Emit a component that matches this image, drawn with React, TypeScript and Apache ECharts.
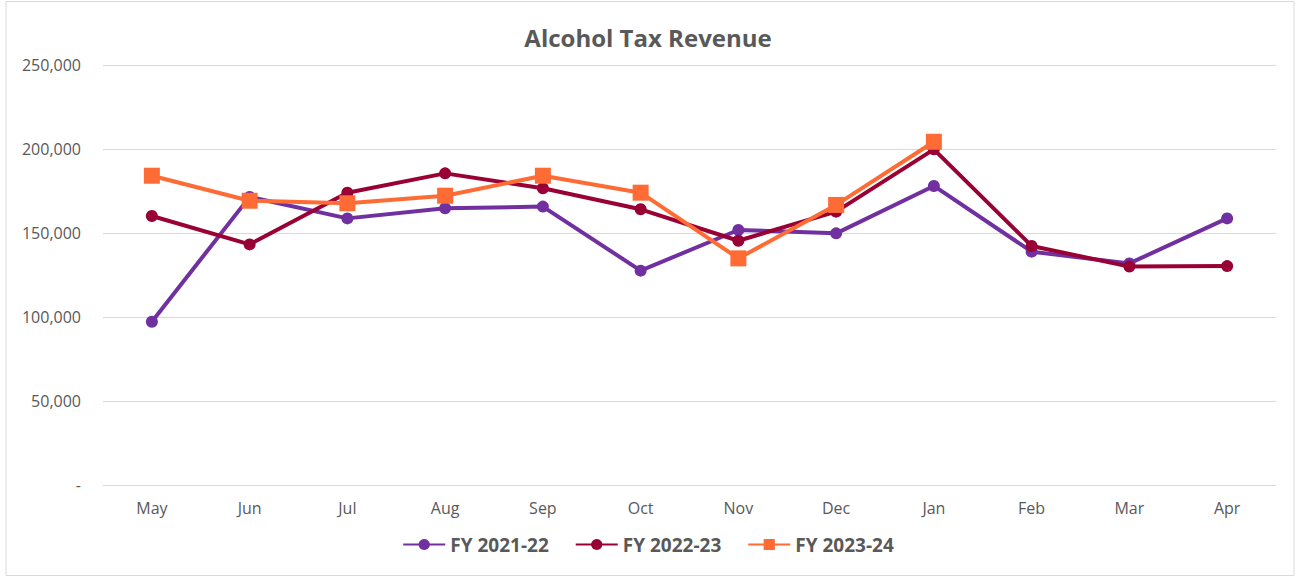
import React, { useEffect, useRef } from "react";
import * as echarts from "echarts";

const months = ["May", "Jun", "Jul", "Aug", "Sep", "Oct", "Nov", "Dec", "Jan", "Feb", "Mar", "Apr"];
const fy2122 = [97200, 171500, 158700, 164700, 165700, 127600, 151800, 149800, 178000, 138900, 131900, 158700];
const fy2223 = [160100, 143200, 174000, 185500, 176600, 164100, 145400, 162700, 199800, 142300, 130000, 130300];
const fy2324 = [184100, 169200, 167700, 172200, 184100, 174000, 134900, 166700, 204300, null, null, null];
const seriesNames = ["FY 2021-22", "FY 2022-23", "FY 2023-24"];
const yTicks = [0, 50000, 100000, 150000, 200000, 250000];

export default function App() {
  const ref = useRef<HTMLDivElement>(null);
  useEffect(() => {
    if (!ref.current) return;
    const chart = echarts.init(ref.current, null, { renderer: "svg" });
    const font = "'Open Sans', 'Noto Sans', sans-serif";
    chart.setOption({
      animation: false,
      backgroundColor: "#ffffff",
      textStyle: { fontFamily: font },
      title: {
        text: "Alcohol Tax Revenue",
        left: "center",
        top: 20,
        textStyle: { color: "#595959", fontSize: 24, fontWeight: "bold", fontFamily: font },
      },
      graphic: [
        {
          type: "rect",
          shape: { x: 6, y: 1.5, width: 1288, height: 574 },
          style: { fill: "none", stroke: "#d9d9d9", lineWidth: 1 },
          silent: true,
        },
      ],
      legend: {
        top: 530,
        left: "center",
        itemWidth: 42,
        itemHeight: 14,
        itemGap: 26,
        textStyle: { color: "#595959", fontSize: 19, fontWeight: "bold", fontFamily: font },
        data: seriesNames,
      },
      grid: { left: 103, right: 20, top: 65, bottom: 92 },
      xAxis: {
        type: "category",
        data: months,
        boundaryGap: true,
        axisLine: { show: true, lineStyle: { color: "#d9d9d9", width: 1 } },
        axisTick: { show: false },
        axisLabel: { color: "#595959", fontSize: 16, margin: 15, fontFamily: font },
      },
      yAxis: {
        type: "value",
        min: yTicks[0],
        max: yTicks[yTicks.length - 1],
        interval: 50000,
        axisLine: { show: false },
        axisTick: { show: false },
        splitLine: { lineStyle: { color: "#d9d9d9", width: 1 } },
        axisLabel: {
          color: "#595959",
          fontSize: 16,
          margin: 22,
          fontFamily: font,
          formatter: (v: number) => (v === 0 ? "-" : v.toLocaleString("en-US")),
        },
      },
      series: [
        {
          name: seriesNames[0],
          type: "line",
          data: fy2122,
          symbol: "circle",
          symbolSize: 12,
          lineStyle: { width: 4, color: "#7030A0" },
          itemStyle: { color: "#7030A0" },
          z: 2,
        },
        {
          name: seriesNames[1],
          type: "line",
          data: fy2223,
          symbol: "circle",
          symbolSize: 12,
          lineStyle: { width: 4, color: "#990033" },
          itemStyle: { color: "#990033" },
          z: 3,
        },
        {
          name: seriesNames[2],
          type: "line",
          data: fy2324,
          symbol: "rect",
          symbolSize: 16,
          lineStyle: { width: 4, color: "#FF6B35" },
          itemStyle: { color: "#FF6B35" },
          z: 4,
        },
      ],
    });
    return () => chart.dispose();
  }, []);
  return (
    <div
      ref={ref}
      style={{ position: "absolute", left: 0, top: 0, width: 1296, height: 577 }}
    />
  );
}
